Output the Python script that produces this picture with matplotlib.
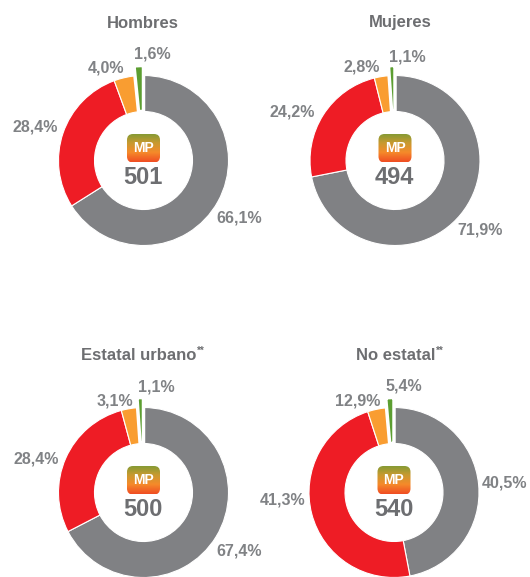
import matplotlib
matplotlib.use('Agg')
import matplotlib.pyplot as plt
import numpy as np
from matplotlib.patches import FancyBboxPatch
from matplotlib.colors import LinearSegmentedColormap

# Datos: titulos, etiquetas impresas y arcos medidos en la imagen
titulos = ['Hombres', 'Mujeres', 'Estatal urbano', 'No estatal']
puntajes = [501, 494, 500, 540]
etiquetas = [
    ['66,1%', '28,4%', '4,0%', '1,6%'],
    ['71,9%', '24,2%', '2,8%', '1,1%'],
    ['67,4%', '28,4%', '3,1%', '1,1%'],
    ['40,5%', '41,3%', '12,9%', '5,4%'],
]
# En "No estatal" los arcos dibujados no siguen los porcentajes impresos
arcos = [
    [66.1, 28.4, 4.0, 1.6],
    [71.9, 24.2, 2.8, 1.1],
    [67.4, 28.4, 3.1, 1.1],
    [47.0, 48.0, 3.6, 1.4],
]
colores = ['#808184', '#ee1c25', '#f99d31', '#5c9e31']
gris = '#808285'
gris_oscuro = '#6d6e71'

W, H = 530, 577
centros = [(143.5, 160.5), (395, 160.5), (143.5, 492.5), (394, 492.5)]
R = 85
R_in = 49
# posicion de cada etiqueta en pixeles de la imagen
pos_etiquetas = [
    [(239.5, 218), (35, 127), (105.5, 68), (152.5, 54)],
    [(480, 230), (292, 112), (361.5, 67.5), (407, 56.5)],
    [(239, 550.5), (36, 459.5), (114.5, 400.5), (156, 386.5)],
    [(505, 482.5), (282.5, 500), (358, 400.5), (403.5, 386)],
]
pos_titulos = [(143, 23), (400.5, 23), (139, 356), (396, 356)]
pos_asteriscos = [None, None, (201, 351), (440, 351)]

plt.rcParams['font.family'] = ['Liberation Sans', 'DejaVu Sans']

fig = plt.figure(figsize=(W / 100, H / 100), dpi=100)
fondo = fig.add_axes([0, 0, 1, 1], zorder=2)
fondo.set_xlim(0, W)
fondo.set_ylim(H, 0)
fondo.axis('off')

cmap = LinearSegmentedColormap.from_list('mp', ['#7f9a35', '#c79a30', '#f58a2a', '#f04e23'])
grad = np.linspace(0, 1, 64).reshape(-1, 1)

for i, (cx, cy) in enumerate(centros):
    escala = 1.2
    ax = fig.add_axes([(cx - R * escala) / W, 1 - (cy + R * escala) / H,
                       2 * R * escala / W, 2 * R * escala / H])
    wedges, _ = ax.pie(arcos[i], colors=colores, startangle=90, counterclock=False,
                       radius=R, wedgeprops=dict(width=R - R_in, edgecolor='white', linewidth=0.8))
    # la porcion verde sobresale del anillo y lleva un borde blanco mas grueso
    wedges[3].set_radius(R + 10)
    wedges[3].set_width(R + 10 - R_in)
    wedges[3].set_linewidth(2.5)
    wedges[3].set_zorder(5)
    ax.set_xlim(-R * escala, R * escala)
    ax.set_ylim(-R * escala, R * escala)
    ax.set_aspect('equal')
    ax.axis('off')

    caja = FancyBboxPatch((cx - 16.5, cy - 26.5), 33, 28.5, boxstyle='round,pad=0,rounding_size=6',
                          facecolor='none', edgecolor='none')
    fondo.add_patch(caja)
    im = fondo.imshow(grad, extent=(cx - 17, cx + 17, cy + 2, cy - 26.5), cmap=cmap, aspect='auto')
    im.set_clip_path(caja)
    fondo.text(cx, cy - 12, 'MP', ha='center', va='center', color='white',
               fontsize=10, fontweight='bold')
    fondo.text(cx - 0.5, cy + 17.5, str(puntajes[i]), ha='center', va='center', color=gris_oscuro,
               fontsize=17, fontweight='bold')
    fondo.text(*pos_titulos[i], titulos[i], ha='center', va='center', color=gris_oscuro,
               fontsize=12, fontweight='bold')
    if pos_asteriscos[i]:
        fondo.text(*pos_asteriscos[i], '**', ha='center', va='center', color=gris_oscuro,
                   fontsize=7, fontweight='bold')
    for (x, y), txt in zip(pos_etiquetas[i], etiquetas[i]):
        fondo.text(x, y, txt, ha='center', va='center', color=gris,
                   fontsize=11.5, fontweight='bold')

fondo.set_xlim(0, W)
fondo.set_ylim(H, 0)
fig.savefig('out.png', dpi=100, facecolor='white')
